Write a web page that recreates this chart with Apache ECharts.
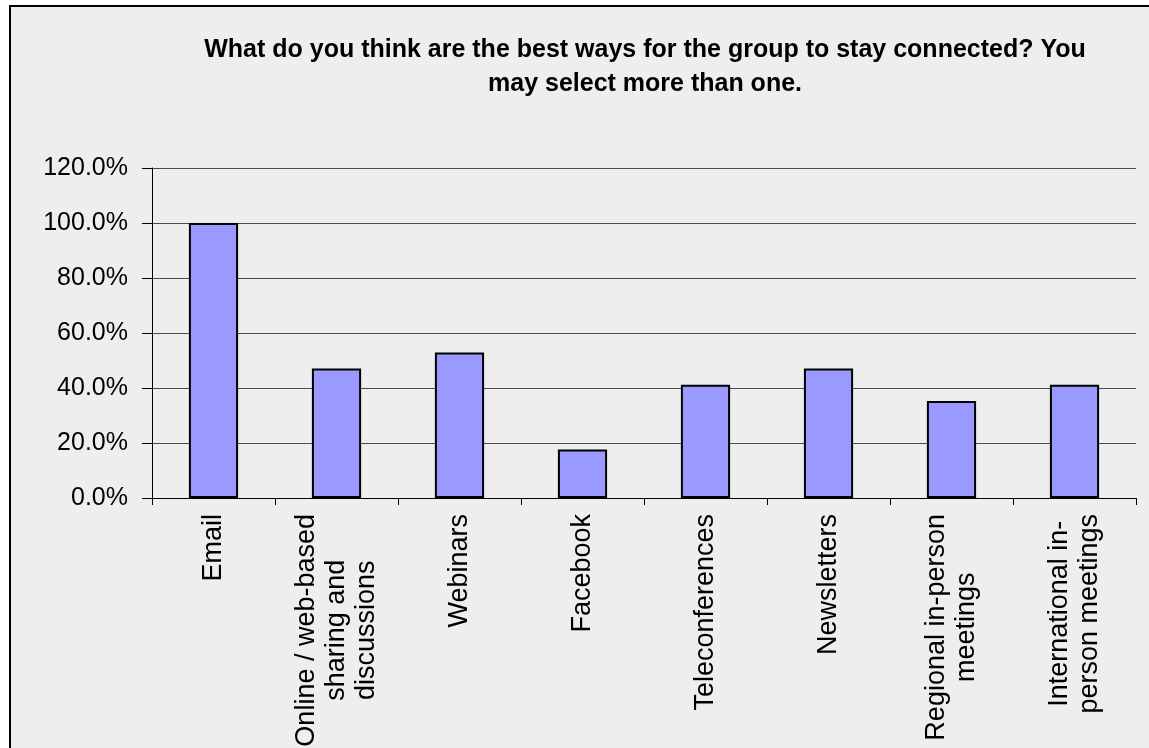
<!DOCTYPE html>
<html>
<head>
<meta charset="utf-8">
<script src="https://cdn.jsdelivr.net/npm/echarts@6/dist/echarts.min.js"></script>
<style>
html,body{margin:0;padding:0;background:#ffffff;}
#chart{width:1149px;height:748px;}
</style>
</head>
<body>
<div id="chart"></div>
<script>
const titleLines = ['What do you think are the best ways for the group to stay connected? You', 'may select more than one.'];
const categories = [
  'Email',
  'Online / web-based\nsharing and\ndiscussions',
  'Webinars',
  'Facebook',
  'Teleconferences',
  'Newsletters',
  'Regional in-person\nmeetings',
  'International in-\nperson meetings'
];
const values = [1.0, 0.471, 0.529, 0.176, 0.412, 0.471, 0.353, 0.412];
const yTicks = { min: 0, max: 1.2, interval: 0.2 };

const chart = echarts.init(document.getElementById('chart'), null, {renderer: 'canvas'});
const font = '"Liberation Sans", Arial, sans-serif';
chart.setOption({
  backgroundColor: '#ffffff',
  animation: false,
  graphic: [{
    type: 'rect', z: -10, silent: true,
    shape: {x: 10, y: 6, width: 1200, height: 800},
    style: {fill: '#eeeeee', stroke: '#000000', lineWidth: 2}
  }],
  title: {
    text: titleLines.join('\n'),
    left: 640, top: 28, textAlign: 'center',
    textStyle: {fontFamily: font, fontWeight: 'bold', fontSize: 25, lineHeight: 34, color: '#000000'}
  },
  grid: {left: 152, right: 13, top: 168, bottom: 250, containLabel: false, outerBoundsMode: 'none'},
  xAxis: {
    type: 'category',
    data: categories,
    axisLine: {show: true, lineStyle: {color: '#000000', width: 1}},
    axisTick: {show: true, length: 7, alignWithLabel: false, lineStyle: {color: '#000000'}},
    axisLabel: {
      rotate: 90, interval: 0, margin: 16,
      fontFamily: font, fontSize: 27, color: '#000000',
      formatter: function (v) { return v.split('\n').map(s => '{c|' + s + '}').join('\n'); },
      rich: {c: {align: 'center', fontFamily: font, fontSize: 27, lineHeight: 30, color: '#000000'}}
    }
  },
  yAxis: {
    type: 'value',
    min: yTicks.min, max: yTicks.max, interval: yTicks.interval,
    axisLine: {show: true, lineStyle: {color: '#000000', width: 1}},
    axisTick: {show: true, length: 10, lineStyle: {color: '#000000'}},
    axisLabel: {
      margin: 24, fontFamily: font, fontSize: 25, color: '#000000',
      formatter: v => (v * 100).toFixed(1) + '%'
    },
    splitLine: {show: true, lineStyle: {color: '#4d4d4d', width: 1}}
  },
  series: [{
    type: 'bar',
    data: values,
    barWidth: '40%',
    itemStyle: {color: '#9999ff', borderColor: '#000000', borderWidth: 2}
  }]
});
</script>
</body>
</html>
